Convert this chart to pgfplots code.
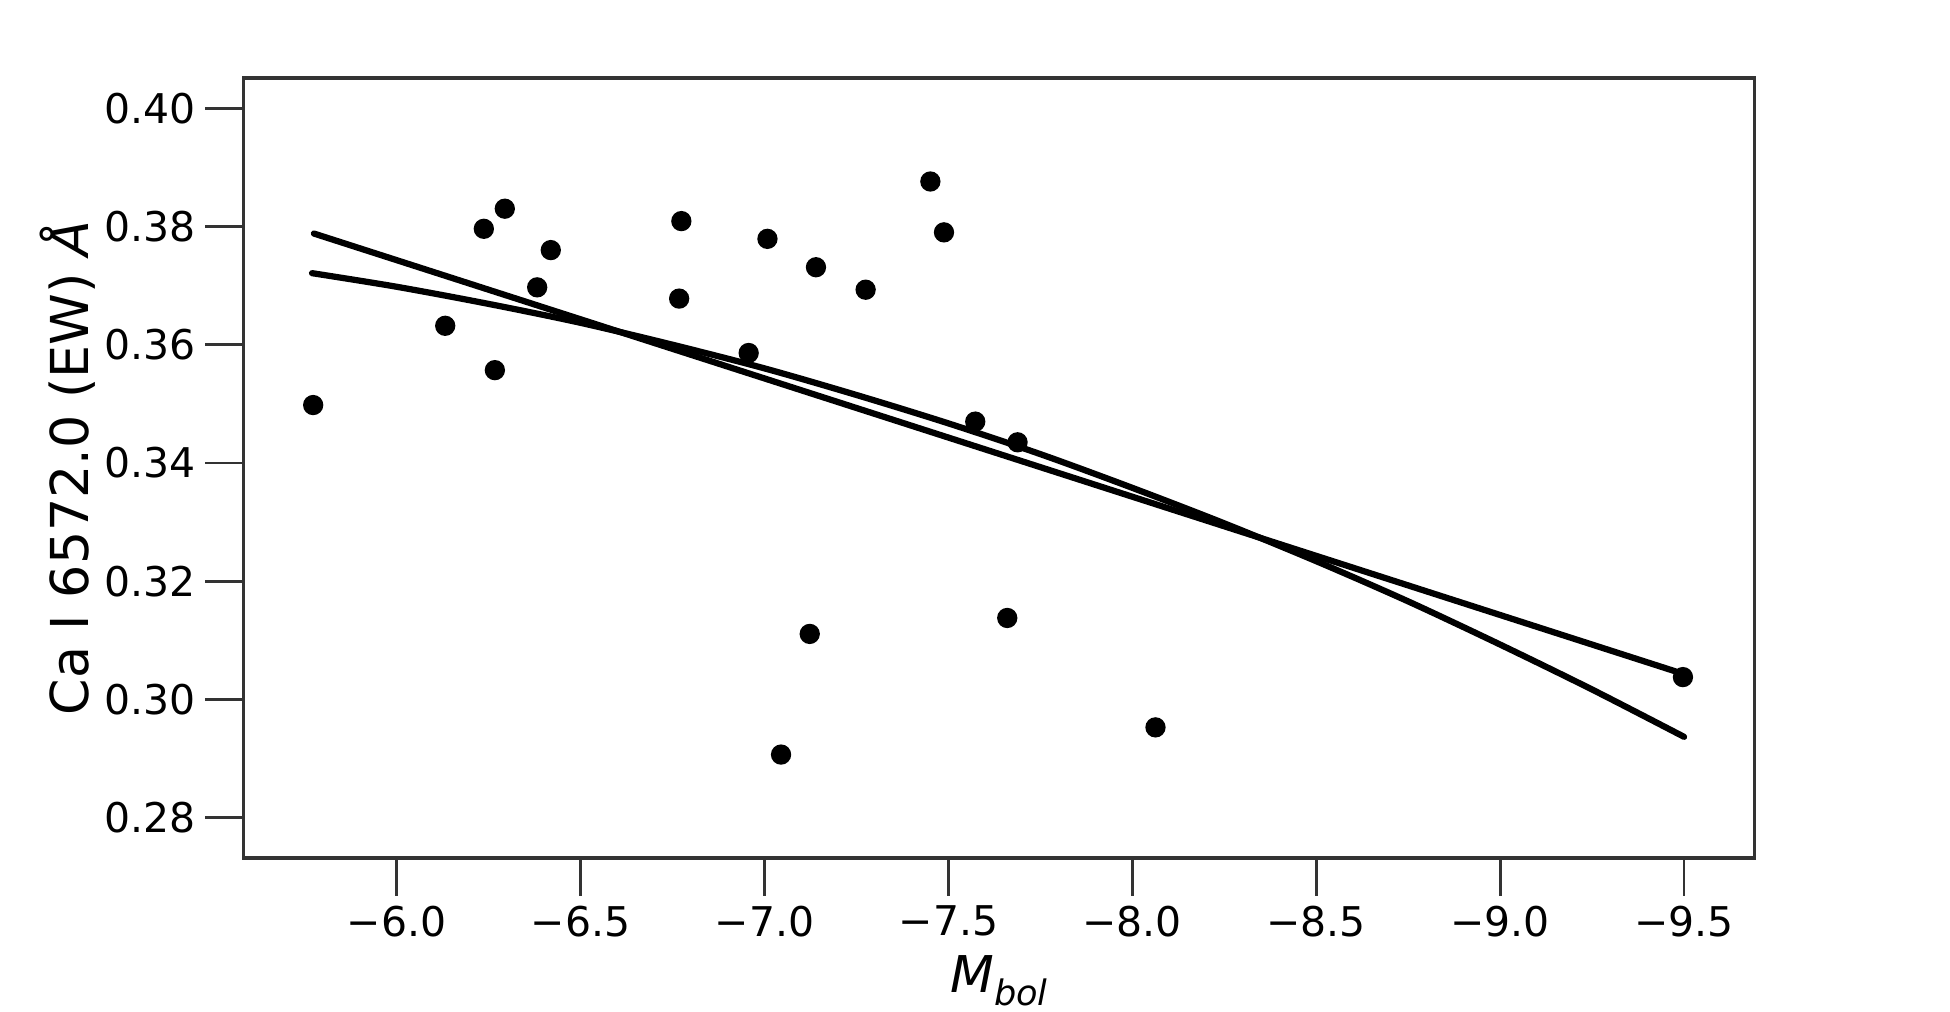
\documentclass[border=0pt]{standalone}
\usepackage{fontspec}
\setmainfont{DejaVu Sans}
\usepackage{pgfplots}
\pgfplotsset{compat=1.18}

% Ca I 6572.0 equivalent width against bolometric magnitude
\begin{document}
\begin{tikzpicture}
\begin{axis}[
  scale only axis,
  width=387.5pt, height=200pt,
  x dir=reverse,
  xmin=-9.692, xmax=-5.583,
  ymin=0.2732, ymax=0.4051,
  axis line style={line width=0.85pt, black!80},
  tick align=outside,
  major tick length=9.7pt,
  every tick/.style={line width=0.7pt, black!80},
  xtick={-9.5,-9.0,-8.5,-8.0,-7.5,-7.0,-6.5,-6.0},
  xticklabels={−9.5,−9.0,−8.5,−8.0,−7.5,−7.0,−6.5,−6.0},
  ytick={0.28,0.30,0.32,0.34,0.36,0.38,0.40},
  yticklabels={0.28,0.30,0.32,0.34,0.36,0.38,0.40},
  xtick pos=bottom, ytick pos=left,
  tick label style={font=\fontsize{10.5}{12}\selectfont},
  xticklabel style={inner sep=2.3pt},
  yticklabel style={inner sep=2.3pt},
  xlabel={\textit{M}\raisebox{-0.45ex}{\fontsize{9}{10}\selectfont\textit{bol}}},
  xlabel style={at={(axis description cs:0.5,0)}, anchor=base, yshift=-34.5pt,
    inner sep=0pt, font=\fontsize{13}{15}\selectfont},
  ylabel={Ca I 6572.0 (EW) \textit{Å}},
  ylabel style={at={(axis description cs:-0.1159,0.5)}, anchor=center,
    inner sep=0pt, font=\fontsize{13.4}{15}\selectfont},
  clip=false,
]
% linear fit
\addplot[black, line width=1.6pt, line cap=round] coordinates {
  (-5.775,0.3788) (-9.500,0.3043)
};
% quadratic fit
\addplot[black, line width=1.6pt, line cap=round, smooth] coordinates {
  (-5.77,0.3721) (-6.00,0.3698) (-6.25,0.3669) (-6.50,0.3637)
  (-6.75,0.3600) (-7.00,0.3560) (-7.25,0.3515) (-7.50,0.3467)
  (-7.75,0.3415) (-8.00,0.3358) (-8.25,0.3298) (-8.50,0.3234)
  (-8.75,0.3166) (-9.00,0.3093) (-9.25,0.3017) (-9.50,0.2937)
};
% stars
\addplot[only marks, mark=*, mark size=2.4pt, black] coordinates {
  (-5.773,0.3498) (-6.132,0.3632) (-6.237,0.3796) (-6.294,0.3830)
  (-6.267,0.3557) (-6.382,0.3697) (-6.419,0.3760) (-6.774,0.3809)
  (-6.768,0.3678) (-6.957,0.3586) (-7.008,0.3779) (-7.140,0.3731)
  (-7.275,0.3693) (-7.451,0.3876) (-7.488,0.3790) (-7.573,0.3470)
  (-7.688,0.3435) (-7.123,0.3111) (-7.045,0.2907) (-7.660,0.3138)
  (-8.063,0.2953) (-9.497,0.3038)
};
\end{axis}
% page extent around the axis
\path ([xshift=-62.38pt,yshift=-39.23pt]current axis.south west)
  rectangle ([xshift=50.08pt,yshift=20pt]current axis.north east);
\end{tikzpicture}
\end{document}
